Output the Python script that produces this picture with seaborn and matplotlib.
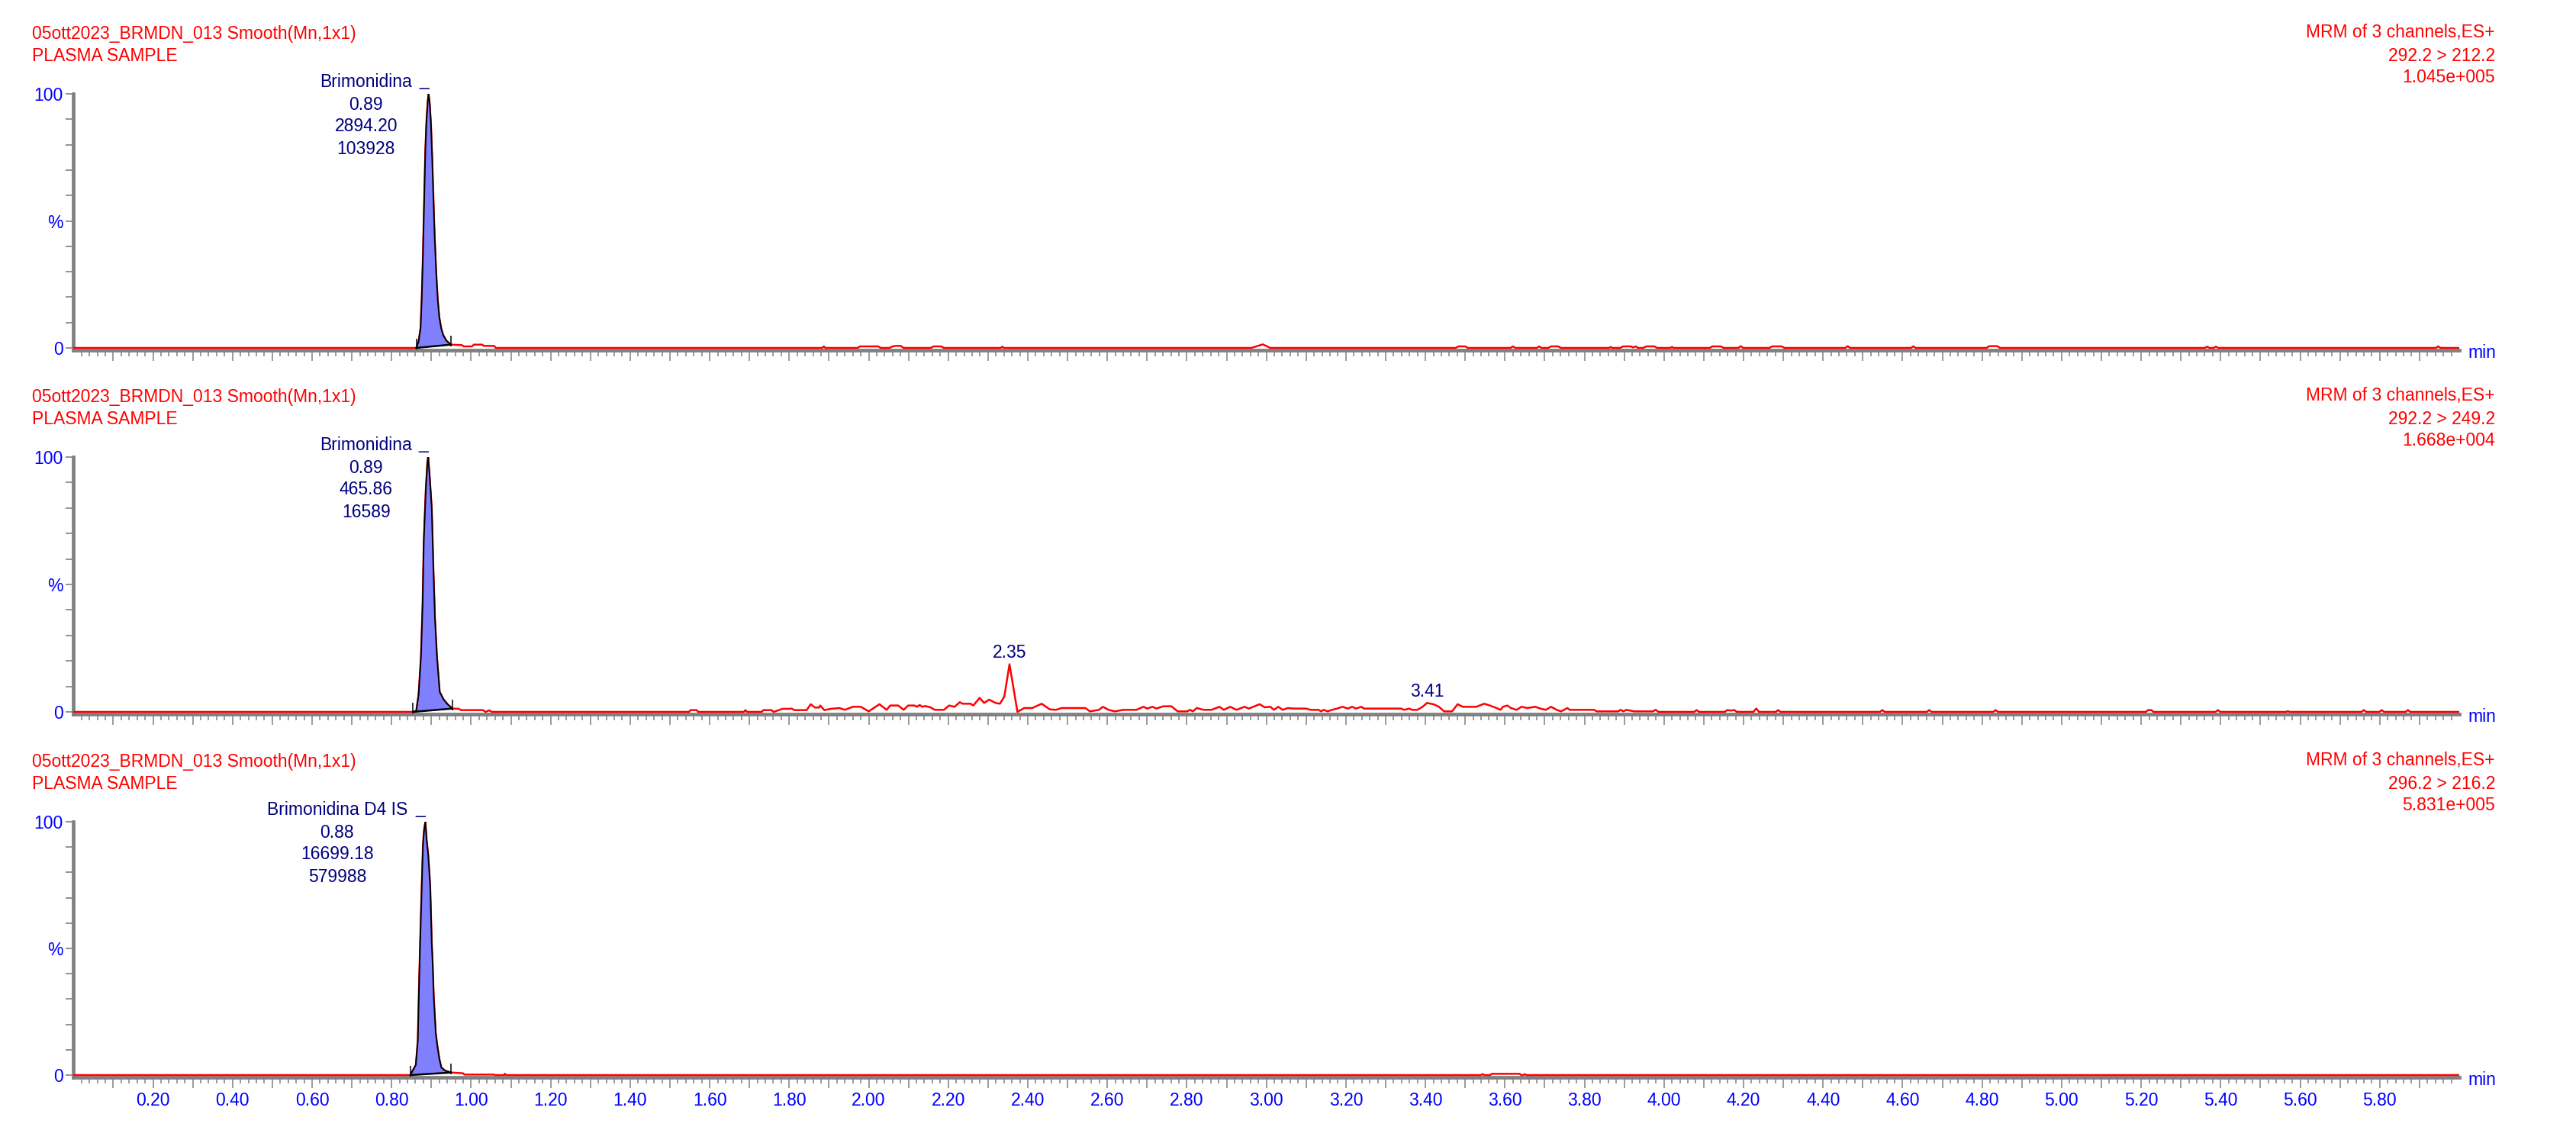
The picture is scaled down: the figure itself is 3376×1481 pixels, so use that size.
import numpy as np
import pandas as pd
import seaborn as sns
import matplotlib
matplotlib.use("Agg")
import matplotlib.pyplot as plt
from matplotlib.ticker import FixedLocator, FuncFormatter

# --- header texts -----------------------------------------------------------
SAMPLE_TITLE = "05ott2023_BRMDN_013 Smooth(Mn,1x1)"
SAMPLE_DESC = "PLASMA SAMPLE"
SCAN_TYPE = "MRM of 3 channels,ES+"
transitions = ["292.2 > 212.2", "292.2 > 249.2", "296.2 > 216.2"]
max_intensity = ["1.045e+005", "1.668e+004", "5.831e+005"]

# --- integrated peak info ---------------------------------------------------
compound = ["Brimonidina", "Brimonidina", "Brimonidina D4 IS"]
peak_rt = ["0.89", "0.89", "0.88"]
peak_area = ["2894.20", "465.86", "16699.18"]
peak_height = ["103928", "16589", "579988"]
peak_start = [0.862, 0.854, 0.847]
peak_end = [0.949, 0.953, 0.950]
label_x = [0.736, 0.736, 0.663]
# small peaks labelled only with RT
extra_rt = [[], [2.35, 3.41], []]

# --- chromatograms: (time min, % of max) ------------------------------------
ch1 = [(0.0, 0), (0.862, 0), (0.868, 2.5), (0.873, 8), (0.876, 20), (0.879, 37),
       (0.882, 58), (0.885, 78), (0.888, 90), (0.891, 97), (0.893, 100),
       (0.896, 96), (0.899, 88), (0.902, 75), (0.905, 60), (0.908, 45),
       (0.912, 30), (0.916, 19), (0.920, 12), (0.925, 7.5), (0.930, 5),
       (0.938, 2.8), (0.949, 1.3), (0.977, 1.1), (0.981, 0.6), (1.002, 0.6),
       (1.007, 1.3), (1.028, 1.3), (1.032, 0.8), (1.058, 0.8), (1.062, 0),
       (1.883, 0), (1.887, 0.6), (1.891, 0), (1.972, 0), (1.978, 0.6),
       (2.024, 0.6), (2.030, 0), (2.052, 0), (2.060, 0.6), (2.068, 0.8),
       (2.080, 0.8), (2.088, 0), (2.156, 0), (2.163, 0.6), (2.182, 0.6),
       (2.189, 0), (2.332, 0), (2.336, 0.5), (2.340, 0), (2.962, 0),
       (2.991, 1.4), (3.010, 0), (3.476, 0), (3.483, 0.6), (3.500, 0.6),
       (3.507, 0), (3.614, 0), (3.620, 0.6), (3.626, 0), (3.680, 0),
       (3.686, 0.6), (3.692, 0), (3.709, 0), (3.716, 0.6), (3.734, 0.6),
       (3.741, 0), (3.862, 0), (3.866, 0.4), (3.870, 0), (3.890, 0),
       (3.897, 0.6), (3.917, 0.6), (3.922, 0.2), (3.929, 0.6), (3.935, 0),
       (3.948, 0), (3.955, 0.6), (3.976, 0.6), (3.983, 0), (4.016, 0),
       (4.020, 0.4), (4.024, 0), (4.115, 0), (4.122, 0.6), (4.143, 0.6),
       (4.150, 0), (4.187, 0), (4.193, 0.7), (4.199, 0), (4.265, 0),
       (4.272, 0.6), (4.296, 0.6), (4.303, 0), (4.456, 0), (4.462, 0.7),
       (4.468, 0), (4.621, 0), (4.627, 0.6), (4.633, 0), (4.811, 0),
       (4.818, 0.7), (4.838, 0.7), (4.845, 0), (5.360, 0), (5.366, 0.5),
       (5.372, 0), (5.382, 0), (5.388, 0.5), (5.394, 0), (5.941, 0),
       (5.947, 0.6), (5.953, 0), (6.0, 0)]

ch2 = [(0.0, 0), (0.854, 0), (0.862, 0.3), (0.868, 6.8), (0.874, 21.8),
       (0.878, 41.8), (0.881, 66.8), (0.886, 86.8), (0.890, 97.8), (0.892, 100),
       (0.896, 91.8), (0.901, 79.8), (0.905, 56.8), (0.909, 36.8), (0.914, 21.8),
       (0.921, 7.8), (0.931, 4.8), (0.942, 2.8), (0.953, 1.3), (0.969, 1.2),
       (0.975, 0.7), (1.030, 0.7), (1.036, 0), (1.046, 0.6), (1.052, 0),
       (1.548, 0), (1.552, 0.7), (1.567, 0.7), (1.571, 0), (1.686, 0),
       (1.690, 0.7), (1.694, 0), (1.731, 0), (1.735, 0.7), (1.755, 0.7),
       (1.761, 0), (1.783, 1.2), (1.800, 1.2), (1.806, 1.3), (1.813, 0.7),
       (1.844, 0.7), (1.854, 3.0), (1.865, 1.7), (1.875, 1.7), (1.878, 2.5),
       (1.888, 0.7), (1.905, 1.2), (1.926, 1.5), (1.940, 0.8), (1.960, 2.0),
       (1.980, 2.0), (2.000, 0.2), (2.027, 3.0), (2.045, 0.8), (2.054, 2.5),
       (2.074, 2.5), (2.088, 0.8), (2.099, 2.5), (2.115, 2.5), (2.121, 2.0),
       (2.128, 2.7), (2.135, 2.0), (2.142, 2.3), (2.155, 1.8), (2.166, 0.8),
       (2.189, 0.8), (2.202, 2.5), (2.216, 2.0), (2.229, 3.8), (2.236, 3.2),
       (2.256, 3.2), (2.263, 2.5), (2.279, 5.5), (2.290, 3.5), (2.303, 4.8),
       (2.319, 3.5), (2.330, 3.2), (2.341, 6.0), (2.354, 18.7), (2.374, 0),
       (2.391, 1.5), (2.411, 1.5), (2.435, 3.2), (2.455, 1.0), (2.471, 0.8),
       (2.485, 1.5), (2.545, 1.5), (2.556, 0.2), (2.579, 0.8), (2.589, 2.0),
       (2.603, 0.8), (2.619, 0.2), (2.640, 0.8), (2.673, 0.8), (2.691, 2.0),
       (2.700, 1.3), (2.714, 2.0), (2.723, 1.3), (2.741, 2.2), (2.761, 2.2),
       (2.777, 0.2), (2.801, 0.2), (2.808, 0.8), (2.815, 0.2), (2.825, 1.5),
       (2.842, 0.8), (2.862, 0.8), (2.882, 2.0), (2.893, 0.8), (2.909, 2.0),
       (2.925, 0.8), (2.945, 2.0), (2.956, 1.3), (2.983, 3.0), (2.996, 1.8),
       (3.010, 2.0), (3.019, 0.8), (3.030, 2.0), (3.041, 0.8), (3.054, 1.5),
       (3.068, 1.3), (3.100, 1.3), (3.111, 0.8), (3.131, 0.8), (3.138, 0.2),
       (3.144, 0.8), (3.154, 0.2), (3.165, 0.8), (3.178, 1.3), (3.191, 2.0),
       (3.205, 1.3), (3.216, 2.0), (3.225, 1.3), (3.239, 2.0), (3.245, 1.3),
       (3.312, 1.3), (3.339, 1.3), (3.346, 0.8), (3.360, 1.3), (3.366, 0.8),
       (3.380, 0.8), (3.393, 2.0), (3.404, 3.5), (3.420, 3.0), (3.434, 2.0),
       (3.447, 0.2), (3.467, 0.2), (3.481, 3.0), (3.494, 2.0), (3.528, 2.0),
       (3.548, 3.2), (3.562, 2.5), (3.579, 1.5), (3.589, 0.8), (3.595, 2.0),
       (3.606, 2.5), (3.615, 1.5), (3.629, 0.8), (3.642, 2.0), (3.656, 1.5),
       (3.676, 2.0), (3.689, 1.3), (3.703, 0.8), (3.716, 2.0), (3.730, 0.8),
       (3.741, 0.2), (3.757, 1.5), (3.763, 0.8), (3.824, 0.8), (3.831, 0.2),
       (3.885, 0.2), (3.891, 0.8), (3.898, 0.2), (3.905, 0.8), (3.925, 0.2),
       (3.972, 0.2), (3.979, 0.8), (3.986, 0), (4.076, 0), (4.082, 0.7),
       (4.088, 0), (4.153, 0), (4.159, 0.7), (4.168, 0.5), (4.177, 0.7),
       (4.183, 0), (4.225, 0), (4.232, 1.3), (4.239, 0), (4.281, 0),
       (4.287, 0.7), (4.293, 0), (4.543, 0), (4.549, 0.7), (4.555, 0),
       (4.661, 0), (4.667, 0.7), (4.673, 0), (4.828, 0), (4.834, 0.7),
       (4.840, 0), (5.212, 0), (5.217, 0.7), (5.226, 0.7), (5.231, 0),
       (5.387, 0), (5.393, 0.7), (5.399, 0), (5.565, 0), (5.569, 0.3),
       (5.573, 0), (5.754, 0), (5.760, 0.7), (5.766, 0), (5.799, 0),
       (5.805, 0.7), (5.811, 0), (5.865, 0), (5.871, 0.7), (5.877, 0),
       (6.0, 0)]

ch3 = [(0.0, 0), (0.847, 0), (0.861, 4), (0.866, 13.6), (0.869, 34.7),
       (0.872, 52.8), (0.876, 74.9), (0.879, 90.9), (0.882, 97), (0.885, 100),
       (0.888, 93), (0.892, 87), (0.897, 75), (0.901, 52), (0.903, 45),
       (0.906, 31), (0.911, 16.6), (0.915, 11.6), (0.920, 6.5), (0.925, 3),
       (0.935, 1.7), (0.950, 1.0), (0.980, 0.7), (0.983, 0.2), (1.057, 0.2),
       (1.060, 0), (1.083, 0), (1.085, 0.5), (1.088, 0), (3.540, 0),
       (3.544, 0.4), (3.548, 0), (3.563, 0), (3.567, 0.5), (3.637, 0.5),
       (3.641, 0), (3.646, 0), (3.650, 0.4), (3.654, 0), (6.0, 0)]

channels = [ch1, ch2, ch3]

# --- style ------------------------------------------------------------------
RED = "#ff0000"
BLUE = "#0000ff"
NAVY = "#000080"
GRAY = "#808080"
FILL = "#8080ff"
FS = 16.5
W, H, DPI = 3376, 1481, 100

sns.set_style("white")
plt.rcParams["font.family"] = ["Liberation Sans", "DejaVu Sans"]

fig = plt.figure(figsize=(W / DPI, H / DPI), dpi=DPI)

# axes boxes (pixel rows of the 100% and axis bar)
panel_top_px = [123, 599, 1077]
panel_bot_px = [458.5, 935.5, 1411.5]
left_px, right_px = 96.3, 3223

major = np.round(np.arange(0.1, 6.0, 0.1), 2)
minor = [v for v in np.round(np.arange(0.02, 6.0, 0.02), 2) if abs(v * 10 - round(v * 10)) > 1e-6]


def xfmt(v, pos):
    return f"{v:.2f}" if round(v * 10) % 2 == 0 else ""


for i, data in enumerate(channels):
    df = pd.DataFrame(data, columns=["time", "pct"])
    ax = fig.add_axes([left_px / W, 1 - panel_bot_px[i] / H,
                       (right_px - left_px) / W,
                       (panel_bot_px[i] - panel_top_px[i]) / H])

    sns.lineplot(data=df, x="time", y="pct", estimator=None, sort=False,
                 color=RED, linewidth=1.8, ax=ax, zorder=3)

    # integrated peak: fill between trace and drop baseline
    t0, t1 = peak_start[i], peak_end[i]
    b0 = np.interp(t0, df.time, df.pct)
    b1 = np.interp(t1, df.time, df.pct)
    sub = df[(df.time >= t0) & (df.time <= t1)]
    base = np.interp(sub.time, [t0, t1], [b0, b1])
    ax.fill_between(sub.time, sub.pct, base, color=FILL, lw=0, zorder=4)
    ax.plot(sub.time, sub.pct, color="black", lw=1.4, zorder=5)
    ax.plot([t0, t1], [b0, b1], color="black", lw=1.8, zorder=5)
    ax.vlines([t0, t1], [b0 - 0.6, b1 - 0.6], [b0 + 3.6, b1 + 3.6],
              color="black", lw=1.1, zorder=5)

    apex = sub.loc[sub.pct.idxmax()]
    txt = dict(textcoords="offset pixels", ha="center", va="center",
               color=NAVY, fontsize=FS, annotation_clip=False)
    ax.annotate(compound[i], xy=(label_x[i], apex.pct), xytext=(0, 15), **txt)
    ax.annotate("_", xy=(apex.time, apex.pct), xytext=(0, 6),
                textcoords="offset pixels", ha="right", va="bottom",
                color=NAVY, fontsize=FS, annotation_clip=False)
    for k, s in enumerate([peak_rt[i], peak_area[i], peak_height[i]]):
        ax.annotate(s, xy=(label_x[i], apex.pct), xytext=(0, -14 - 29 * k), **txt)

    for rt in extra_rt[i]:
        win = df[(df.time > rt - 0.03) & (df.time < rt + 0.03)]
        pk = win.loc[win.pct.idxmax()]
        ax.annotate(f"{rt:.2f}", xy=(pk.time, pk.pct), xytext=(0, 15), **txt)

    # headers
    hdr = dict(xycoords="axes fraction", textcoords="offset pixels",
               va="center", color=RED, fontsize=FS, annotation_clip=False)
    ax.annotate(SAMPLE_TITLE, xy=(0, 1), xytext=(-54, 78), ha="left", **hdr)
    ax.annotate(SAMPLE_DESC, xy=(0, 1), xytext=(-54, 50), ha="left", **hdr)
    ax.annotate(SCAN_TYPE, xy=(1, 1), xytext=(47, 80), ha="right", **hdr)
    ax.annotate(transitions[i], xy=(1, 1), xytext=(47, 50), ha="right", **hdr)
    ax.annotate(max_intensity[i], xy=(1, 1), xytext=(47, 21), ha="right", **hdr)
    ax.annotate("min", xy=(1, 0), xycoords="axes fraction", xytext=(11, -4),
                textcoords="offset pixels", ha="left", va="center",
                color=BLUE, fontsize=FS, annotation_clip=False)

    # axes
    ax.set_xlim(0, 6.0)
    ax.set_ylim(-0.75, 100)
    ax.set_xlabel("")
    ax.set_ylabel("")
    for s in ["top", "right"]:
        ax.spines[s].set_visible(False)
    for s in ["left", "bottom"]:
        ax.spines[s].set_color(GRAY)
        ax.spines[s].set_linewidth(3.4)
    ax.xaxis.set_major_locator(FixedLocator(major))
    ax.xaxis.set_minor_locator(FixedLocator(minor))
    ax.xaxis.set_major_formatter(FuncFormatter(xfmt))
    ax.set_yticks([0, 50, 100])
    ax.set_yticklabels(["0", "%", "100"])
    ax.yaxis.set_minor_locator(FixedLocator(np.arange(10, 100, 10)))
    ax.tick_params(axis="x", which="major", direction="out", length=10,
                   width=1.1, color=GRAY, labelsize=FS, labelcolor=BLUE,
                   pad=4, labelbottom=(i == 2), bottom=True)
    ax.tick_params(axis="x", which="minor", direction="out", length=5.8,
                   width=1.1, color=GRAY, bottom=True)
    ax.tick_params(axis="y", which="both", direction="out", length=7.3,
                   width=1.2, color=GRAY, left=True)
    ax.tick_params(axis="y", which="major", labelsize=FS, labelcolor=BLUE, pad=2.5)
    ax.grid(False)

fig.savefig("out.png", dpi=DPI)
